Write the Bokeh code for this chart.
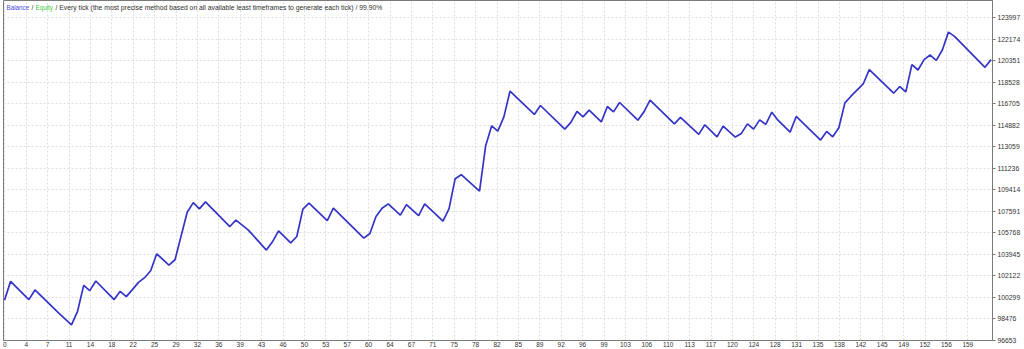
from bokeh.plotting import figure
from bokeh.models import Range1d, FixedTicker, CustomJSTickFormatter, NumeralTickFormatter, Label
from bokeh.embed import file_html
from bokeh.resources import INLINE

# Trade number (turning points of the balance curve) and balance
trade = [0, 1, 4, 5, 9, 11, 12, 13, 14, 15, 18, 19, 20, 21, 22, 23, 24, 25, 27, 28,
         30, 31, 32, 33, 37, 38, 40, 43, 44, 45, 47, 48, 49, 50, 53, 54, 59, 60, 61, 62,
         63, 65, 66, 68, 69, 72, 73, 74, 75, 78, 79, 80, 81, 82, 83, 87, 88, 92, 93, 94,
         95, 96, 98, 99, 100, 101, 104, 105, 106, 110, 111, 114, 115, 117, 118, 120, 121, 122, 123, 124,
         125, 126, 127, 129, 130, 134, 135, 136, 137, 138, 139, 141, 142, 146, 147, 148, 149, 150, 151, 152,
         153, 154, 155, 156, 161, 162]
balance = [100059, 101664, 100118, 100938, 98935, 97980, 99129, 101326, 100879, 101698,
           100118, 100819, 100371, 100963, 101580, 101977, 102569, 104005, 103050, 103498,
           107529, 108341, 107808, 108400, 106313, 106853, 106034, 104318, 105019, 105949,
           104935, 105467, 107783, 108290, 106820, 107867, 105332, 105721, 107158, 107867,
           108231, 107276, 108172, 107242, 108231, 106769, 107834, 110369, 110707, 109304,
           113132, 114848, 114400, 115608, 117781, 115811, 116572, 114569, 115135, 116065,
           115608, 116175, 115186, 116487, 116031, 116825, 115330, 116031, 117020, 115017,
           115558, 114121, 114933, 113918, 114823, 113893, 114206, 115017, 114569, 115355,
           114966, 116006, 115330, 114316, 115642, 113640, 114375, 113918, 114679, 116792,
           117358, 118397, 119614, 117611, 118178, 117722, 120037, 119581, 120459, 120848,
           120400, 121271, 122792, 122429, 119809, 120459]

x_labels = ["0", "4", "7", "11", "14", "18", "22", "25", "29", "32", "36", "39", "43", "46",
            "50", "53", "57", "60", "64", "67", "71", "75", "78", "82", "85", "89", "92", "96",
            "99", "103", "106", "110", "113", "117", "120", "124", "128", "131", "135", "138",
            "142", "145", "149", "152", "156", "159"]
y_ticks = [96653, 98476, 100299, 102122, 103945, 105768, 107591, 109414, 111236, 113059,
           114882, 116705, 118528, 120351, 122174, 123997]

title_parts = ["Balance", "/", "Equity",
               "/ Every tick (the most precise method based on all available least timeframes to generate each tick) / 99.90%"]
title_colors = ["#4a4ae0", "#303030", "#3cc83c", "#303030"]

assert len(trade) == len(balance)

# layout constants (pixel geometry of the reference)
PX_PER_TRADE = 6.09
X0_PX = 4.0          # pixel of trade 0
FRAME_LEFT = 3
FRAME_RIGHT = 992
GRID_PX = 21.4
Y_TOP = 125471

x_start = (FRAME_LEFT - X0_PX) / PX_PER_TRADE
x_end = (FRAME_RIGHT - X0_PX) / PX_PER_TRADE
grid_step = GRID_PX / PX_PER_TRADE
x_tick_pos = [0.05 + k * grid_step for k in range(len(x_labels))]

p = figure(width=1024, height=349, output_backend="svg", toolbar_location=None,
           x_range=Range1d(x_start, x_end), y_range=Range1d(y_ticks[0], Y_TOP),
           y_axis_location="right", x_axis_location="below",
           min_border_left=FRAME_LEFT, min_border_right=1024 - FRAME_RIGHT,
           min_border_top=0, min_border_bottom=8)

p.background_fill_color = "white"
p.border_fill_color = "white"
p.outline_line_color = "#7a7a7a"
p.outline_line_width = 1

# x axis
xa = p.xaxis[0]
xa.ticker = FixedTicker(ticks=x_tick_pos)
xa.formatter = CustomJSTickFormatter(args=dict(labels=x_labels, step=grid_step),
                                     code="const k = Math.round((tick - 0.05) / step); return (k >= 0 && k < labels.length) ? labels[k] : '';")
xa.major_label_text_font = "Liberation Sans"
xa.major_label_text_font_size = "6.5px"
xa.major_label_text_color = "#333333"
xa.major_label_standoff = 1
xa.major_tick_out = 0
xa.major_tick_in = 0
xa.minor_tick_out = 0
xa.minor_tick_in = 0
xa.axis_line_color = "#7a7a7a"

# y axis
ya = p.yaxis[0]
ya.ticker = FixedTicker(ticks=y_ticks)
ya.formatter = NumeralTickFormatter(format="0")
ya.major_label_text_font = "Liberation Sans"
ya.major_label_text_font_size = "6.8px"
ya.major_label_text_color = "#333333"
ya.major_label_standoff = 2
ya.major_tick_out = 3
ya.major_tick_in = 0
ya.minor_tick_out = 0
ya.minor_tick_in = 0
ya.major_tick_line_color = "#7a7a7a"
ya.axis_line_color = "#7a7a7a"

for g in (p.xgrid[0], p.ygrid[0]):
    g.grid_line_color = "#dedede"
    g.grid_line_dash = "2 2"
    g.grid_line_width = 1

p.line(trade, balance, line_color="#3434c8", line_width=1.7)

# title pieces, positioned at their pixel positions in the reference
title_px = [6, 31, 35, 55]
title_sizes = ["6.3px", "6.8px", "6.3px", "6.8px"]
title_y = y_ticks[0] + (341 - 7) * 84.51
for txt, col, px, fs in zip(title_parts, title_colors, title_px, title_sizes):
    p.add_layout(Label(x=(px - X0_PX) / PX_PER_TRADE, y=title_y, text=txt,
                       text_color=col, text_font="Liberation Sans", text_font_size=fs,
                       text_baseline="middle", text_align="left"))

open("out.html", "w").write(file_html(p, INLINE))
